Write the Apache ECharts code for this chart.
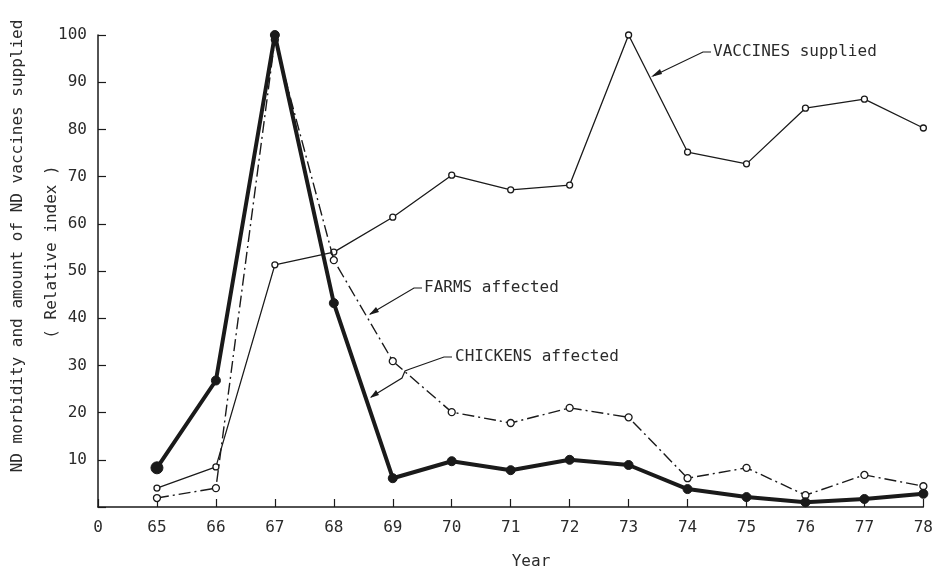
<!DOCTYPE html>
<html>
<head>
<meta charset="utf-8">
<script src="https://cdn.jsdelivr.net/npm/echarts@6/dist/echarts.min.js"></script>
<style>
  html, body { margin: 0; padding: 0; background: #fff; }
  #chart { width: 936px; height: 569px; }
</style>
</head>
<body>
<div id="chart"></div>
<script>
// years on the x axis (64 is drawn as the "0" origin)
var years = [65, 66, 67, 68, 69, 70, 71, 72, 73, 74, 75, 76, 77, 78];
// relative index values
var chickens = [8.3, 26.8, 100, 43.2, 6.1, 9.7, 7.8, 10.0, 8.9, 3.8, 2.1, 1.0, 1.7, 2.8];
var farms    = [1.9, 4.0, 99, 52.3, 30.9, 20.1, 17.8, 21.0, 19.0, 6.1, 8.3, 2.5, 6.8, 4.4];
var vaccines = [4.0, 8.5, 51.3, 54.0, 61.4, 70.3, 67.2, 68.2, 100, 75.2, 72.7, 84.5, 86.4, 80.3];
var yTicks = [10, 20, 30, 40, 50, 60, 70, 80, 90, 100];

var ink = '#1a1a1a';
var txt = '#2b2b2b';
var font = 'DejaVu Sans Mono';
var tfont = '16px "DejaVu Sans Mono"';

function pairs(vals) {
  return years.map(function (y, i) { return [y, vals[i]]; });
}

function leader(points) {
  return { type: 'polyline', shape: { points: points },
    style: { stroke: ink, lineWidth: 1.2, fill: null } };
}
function arrow(points) {
  return { type: 'polygon', shape: { points: points }, style: { fill: ink } };
}
function label(text, x, y) {
  return { type: 'text', x: x, y: y,
    style: { text: text, fill: txt, font: tfont, verticalAlign: 'middle' } };
}

var chart = echarts.init(document.getElementById('chart'));

chart.setOption({
  backgroundColor: '#fff',
  animation: false,
  grid: { left: 98, right: 10, top: 35, bottom: 62 },
  xAxis: {
    type: 'value', min: 64, max: 78, interval: 1,
    axisLine: { lineStyle: { color: ink, width: 1.5 } },
    axisTick: { inside: true, length: 8, lineStyle: { color: ink, width: 1.2 } },
    axisLabel: {
      color: txt, fontFamily: font, fontSize: 16, margin: 13,
      formatter: function (v) { return v === 64 ? '0' : String(v); }
    },
    splitLine: { show: false }
  },
  yAxis: {
    type: 'value', min: 0, max: 100, interval: 10,
    axisLine: { show: true, lineStyle: { color: ink, width: 1.5 } },
    axisTick: { show: true, inside: true, length: 8, lineStyle: { color: ink, width: 1.2 } },
    axisLabel: {
      color: txt, fontFamily: font, fontSize: 16, margin: 11,
      formatter: function (v) { return yTicks.indexOf(v) >= 0 ? String(v) : ''; }
    },
    splitLine: { show: false }
  },
  series: [
    {
      name: 'VACCINES supplied', type: 'line', data: pairs(vaccines),
      symbol: 'circle', symbolSize: 6,
      lineStyle: { color: ink, width: 1.3 },
      itemStyle: { color: '#fff', borderColor: ink, borderWidth: 1.3 },
      z: 2
    },
    {
      name: 'FARMS affected', type: 'line', data: pairs(farms),
      symbol: 'circle', symbolSize: 7,
      lineStyle: { color: ink, width: 1.4, type: [12, 4, 2, 4] },
      itemStyle: { color: '#fff', borderColor: ink, borderWidth: 1.3 },
      z: 3
    },
    {
      name: 'CHICKENS affected', type: 'line', data: pairs(chickens),
      symbol: 'circle',
      symbolSize: function (v) { return v[0] === 65 ? 12 : 9; },
      lineStyle: { color: ink, width: 4 },
      itemStyle: { color: ink, borderColor: ink },
      z: 4
    }
  ],
  graphic: [
    // y axis title, two lines
    { type: 'text', x: 18, y: 246, rotation: Math.PI / 2,
      style: { text: 'ND morbidity and amount of ND vaccines supplied', fill: txt,
        font: tfont, align: 'center', verticalAlign: 'middle' } },
    { type: 'text', x: 52, y: 252, rotation: Math.PI / 2,
      style: { text: '( Relative index )', fill: txt,
        font: tfont, align: 'center', verticalAlign: 'middle' } },
    { type: 'text', x: 531, y: 562,
      style: { text: 'Year', fill: txt, font: tfont, align: 'center', verticalAlign: 'middle' } },
    // annotations with leader lines
    leader([[653, 76], [703, 52], [711, 52]]),
    arrow([[651, 77], [660, 69], [662, 74]]),
    label('VACCINES supplied', 713, 52),
    leader([[370, 314], [414, 288], [422, 288]]),
    arrow([[369, 315], [376, 307], [379, 312]]),
    label('FARMS affected', 424, 288),
    leader([[371, 397], [402, 378], [405, 371], [410, 369], [444, 357], [452, 357]]),
    arrow([[370, 398], [376, 390], [379, 395]]),
    label('CHICKENS affected', 455, 357)
  ]
});
</script>
</body>
</html>
